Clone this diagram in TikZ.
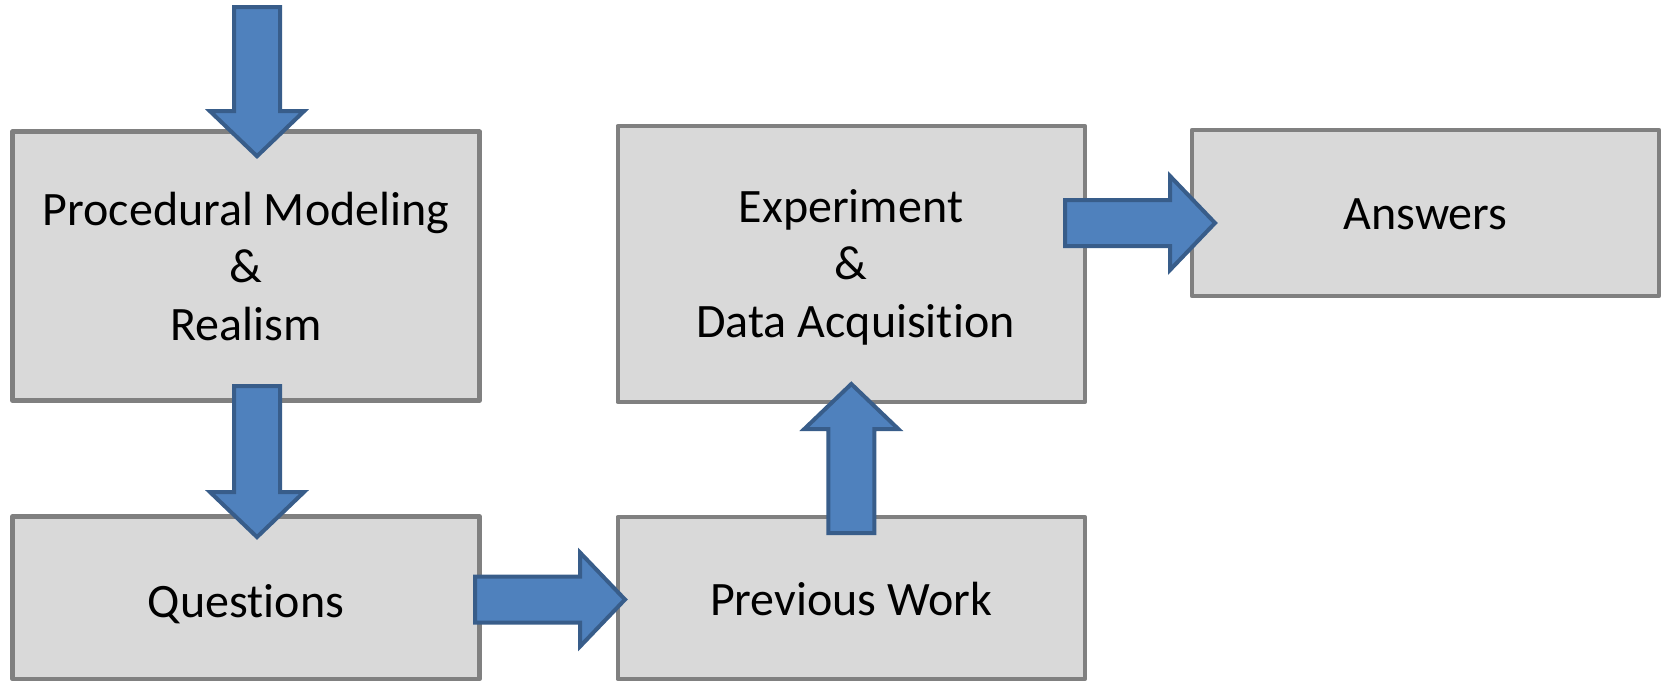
\documentclass[tikz,border=0pt]{standalone}
\usepackage{fontspec}
\setmainfont{Carlito}[Ligatures=NoCommon]
\usetikzlibrary{calc}
\definecolor{boxfill}{HTML}{D9D9D9}
\definecolor{boxline}{HTML}{808080}
\definecolor{arrfill}{HTML}{4F81BD}
\definecolor{arrline}{HTML}{385D8A}
% Block arrow from tail coordinate #1 to tip coordinate #2
\newcommand\blockarrow[2]{%
  \coordinate (ba-base) at ($(#2)!45pt!(#1)$);
  \filldraw[blockarr]
    ($(#1)!23pt!90:(#2)$) -- ($(ba-base)!23pt!-90:(#1)$) -- ($(ba-base)!47pt!-90:(#1)$)
    -- (#2) -- ($(ba-base)!47pt!90:(#1)$) -- ($(ba-base)!23pt!90:(#1)$)
    -- ($(#1)!23pt!-90:(#2)$) -- cycle;}
\begin{document}
\begin{tikzpicture}[x=1pt,y=-1pt,
  box/.style={draw=boxline, fill=boxfill, line width=4.5pt, line join=round,
    outer sep=0pt, inner sep=0pt, minimum width=467pt},
  lbl/.style={font=\fontsize{48}{57.5}\selectfont, align=center, inner sep=0pt, anchor=base},
  blockarr/.style={fill=arrfill, draw=arrline, line width=4pt, line join=miter}]
\useasboundingbox (0,0) rectangle (1667,683);

% boxes
\node[box, minimum height=269pt] (proc) at (246,266.2) {};
\node[box, minimum height=162.7pt] (ques) at (246,597.7) {};
\node[box, minimum height=162pt] (prev) at (851.3,598) {};
\node[box, minimum height=276pt] (expe) at (851.3,264) {};
\node[box, minimum height=166pt] (answ) at (1425.5,213) {};

% labels (anchored at the baseline of their last line)
\node[lbl] (tproc) at (246,340) {Procedural Modeling\\\&\\Realism};
\node[lbl] (tques) at (246,617) {Questions};
\node[lbl] (tprev) at (851,615) {Previous Work};
\node[lbl] (texpe) at (851,337) {Experiment\\\&\\\hspace*{9pt}Data Acquisition};
\node[lbl] (tansw) at (1425.5,229) {Answers};

% arrow ends
\coordinate (in) at (257,7);
\coordinate (a1) at ($(proc.north)+(11,24.5)$);
\coordinate (a2t) at ($(proc.south)+(11,-14.5)$);
\coordinate (a2) at ($(ques.north)+(11,20.7)$);
\coordinate (a3t) at ($(ques.east)+(-4.5,1.8)$);
\coordinate (a3) at ($(prev.west)+(7.2,1.5)$);
\coordinate (a4t) at ($(prev.north)+(0,16)$);
\coordinate (a4) at ($(expe.south)+(0,-18)$);
\coordinate (a5t) at ($(expe.east)+(-19.8,-41)$);
\coordinate (a5) at ($(answ.west)+(23,10)$);

% arrows
\blockarrow{in}{a1}
\blockarrow{a2t}{a2}
\blockarrow{a3t}{a3}
\blockarrow{a4t}{a4}
\blockarrow{a5t}{a5}
\end{tikzpicture}
\end{document}
